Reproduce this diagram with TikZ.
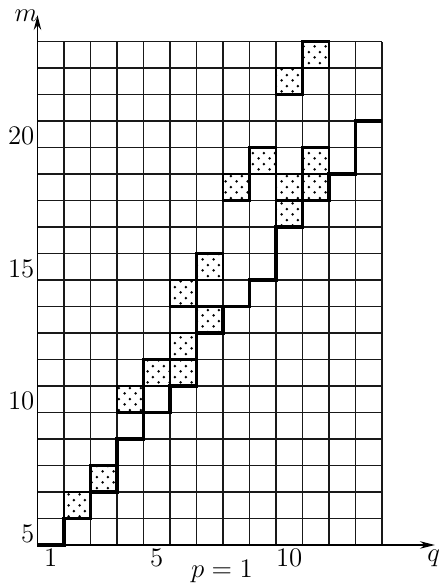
\documentclass[tikz,border=0pt]{standalone}
\usepackage{amsmath}
\usepackage{tikz}
\usetikzlibrary{arrows.meta,patterns.meta}
\tikzdeclarepattern{
  name=cellDots,
  bottom left={(0pt,0pt)}, top right={(6pt,6pt)},
  tile size={(6pt,6pt)},
  code={\fill (1.5pt,1.5pt) circle (0.8pt); \fill (4.5pt,4.5pt) circle (0.8pt);}
}

\begin{document}
\begin{tikzpicture}[x=0.5cm,y=0.5cm,
  lbl/.style={font=\Large,inner sep=1.5pt},
  gridline/.style={black!90,line width=0.65pt},
  dotbox/.style={draw,line width=1.2pt,pattern=cellDots},
  stairline/.style={line width=1.9pt,line join=miter},
  axisline/.style={line width=0.7pt,-{Stealth[length=8pt,width=4pt]}}]
\useasboundingbox (-1.415,-1.51) rectangle (15.19,20.57);

% grid of cells (q,m)
\draw[gridline,step=0.5cm] (0,0) grid (13,19);

% dotted cells
\foreach \q/\m in {2/6,3/7,4/10,5/11,6/11,6/12,7/13,6/14,7/15,8/18,9/19,10/17,10/18,11/18,11/19,10/22,11/23}
  \draw[dotbox] (\q-1,\m-5) rectangle +(1,1);

% staircase
\draw[stairline] (0,0) -| (1,1) -| (2,2) -| (3,4) -| (4,5) -| (5,6) -| (6,8) -| (7,9)
  -| (8,10) -| (9,12) -| (10,13) -| (11,14) -| (12,16) -- (13,16);

% axes
\coordinate (O) at (0,0);
\coordinate (qtip) at (15,0);
\coordinate (mtip) at (0,20);
\draw[axisline] (O) -- (qtip);
\draw[axisline] (O) -- (mtip);

% labels
\foreach \q in {1,5,10}
  \node[lbl,below,inner sep=2pt] (q\q) at (\q-0.5,0) {$\q$};
\foreach \m in {5,10,15,20}
  \node[lbl,left] (m\m) at (0,\m-4.57) {$\m$};
\node[lbl,anchor=base] (plabel) at (6.96,-1.21) {$p=1$};
\node[lbl,anchor=base] (qlabel) at (14.95,-0.64) {$q$};
\node[lbl,anchor=base] (mlabel) at (-0.43,19.74) {$m$};
\end{tikzpicture}
\end{document}
